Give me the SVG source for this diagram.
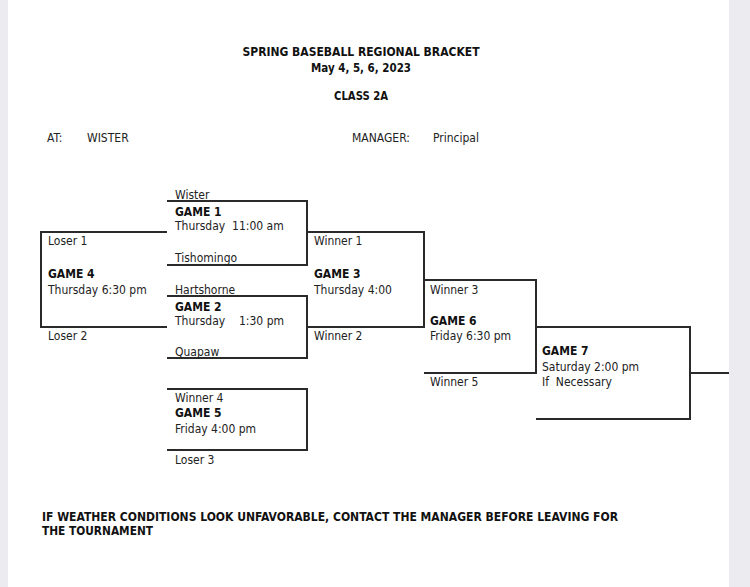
<svg xmlns="http://www.w3.org/2000/svg" width="750" height="587" viewBox="0 0 750 587">
<style>
.t{font-family:"DejaVu Sans Condensed","Liberation Sans",sans-serif;font-size:12px;fill:#222}
.b{font-weight:bold;fill:#111}
.h{font-family:"DejaVu Sans Condensed","Liberation Sans",sans-serif;font-size:12.5px;font-weight:bold;fill:#111}
.ln{fill:none;stroke:#2a2a2a;stroke-width:2}
</style>
<rect x="0" y="0" width="750" height="587" fill="#ffffff"/>
<rect x="0" y="0" width="8" height="587" fill="#ececf0"/>
<rect x="729" y="0" width="21" height="587" fill="#ececf0"/>
<g id="header">
<text class="h" x="361" y="56" text-anchor="middle" textLength="237" lengthAdjust="spacingAndGlyphs">SPRING BASEBALL REGIONAL BRACKET</text>
<text class="h" x="361" y="72" text-anchor="middle" textLength="100" lengthAdjust="spacingAndGlyphs">May 4, 5, 6, 2023</text>
<text class="h" x="361" y="100" text-anchor="middle" textLength="54" lengthAdjust="spacingAndGlyphs">CLASS 2A</text>
<text class="t" x="47" y="142">AT:</text>
<text class="t" x="87" y="142">WISTER</text>
<text class="t" x="352" y="142">MANAGER:</text>
<text class="t" x="433" y="142">Principal</text>
</g>
<g id="connectors">
<polyline class="ln" points="167,201 307,201 307,265 167,265"/>
<polyline class="ln" points="167,232 41,232 41,327 167,327"/>
<polyline class="ln" points="167,296 307,296 307,358 167,358"/>
<polyline class="ln" points="307,232 424,232 424,327 307,327"/>
<polyline class="ln" points="424,280 536,280 536,373 424,373"/>
<polyline class="ln" points="536,327 690,327 690,419 536,419"/>
<line class="ln" x1="690" y1="373" x2="729" y2="373"/>
<polyline class="ln" points="167,389 307,389 307,450 167,450"/>
</g>
<g id="game1">
<text class="t" x="175" y="199">Wister</text>
<text class="t b" x="175" y="216">GAME 1</text>
<text class="t" x="175" y="230" xml:space="preserve">Thursday  11:00 am</text>
<text class="t" x="175" y="262">Tishomingo</text>
</g>
<g id="game4">
<text class="t" x="48" y="245">Loser 1</text>
<text class="t b" x="48" y="278">GAME 4</text>
<text class="t" x="48" y="294">Thursday 6:30 pm</text>
<text class="t" x="48" y="340">Loser 2</text>
</g>
<g id="game2">
<text class="t" x="175" y="294">Hartshorne</text>
<text class="t b" x="175" y="311">GAME 2</text>
<text class="t" x="175" y="325">Thursday</text>
<text class="t" x="239" y="325">1:30 pm</text>
<text class="t" x="175" y="356">Quapaw</text>
</g>
<g id="game3">
<text class="t" x="314" y="245">Winner 1</text>
<text class="t b" x="314" y="278">GAME 3</text>
<text class="t" x="314" y="294">Thursday 4:00</text>
<text class="t" x="314" y="340">Winner 2</text>
</g>
<g id="game6">
<text class="t" x="430" y="294">Winner 3</text>
<text class="t b" x="430" y="325">GAME 6</text>
<text class="t" x="430" y="340">Friday 6:30 pm</text>
<text class="t" x="430" y="386">Winner 5</text>
</g>
<g id="game7">
<text class="t b" x="542" y="355">GAME 7</text>
<text class="t" x="542" y="371">Saturday 2:00 pm</text>
<text class="t" x="542" y="386" xml:space="preserve">If  Necessary</text>
</g>
<g id="game5">
<text class="t" x="175" y="402">Winner 4</text>
<text class="t b" x="175" y="417">GAME 5</text>
<text class="t" x="175" y="433">Friday 4:00 pm</text>
<text class="t" x="175" y="464">Loser 3</text>
</g>
<g id="footer">
<text class="h" x="42" y="521" textLength="576" lengthAdjust="spacingAndGlyphs">IF WEATHER CONDITIONS LOOK UNFAVORABLE, CONTACT THE MANAGER BEFORE LEAVING FOR</text>
<text class="h" x="42" y="535" textLength="111" lengthAdjust="spacingAndGlyphs">THE TOURNAMENT</text>
</g>
</svg>
